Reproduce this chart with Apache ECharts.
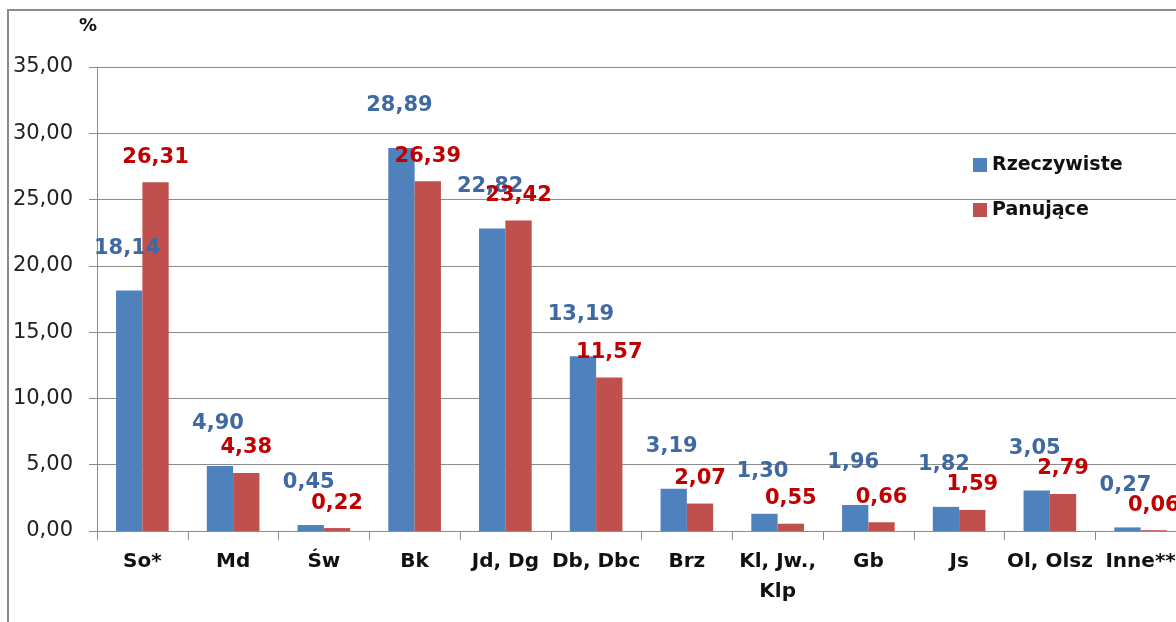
<!DOCTYPE html>
<html>
<head>
<meta charset="utf-8">
<script src="https://cdn.jsdelivr.net/npm/echarts@6/dist/echarts.min.js"></script>
<style>
  html, body { margin: 0; padding: 0; background: #fff; }
  #chart { width: 1176px; height: 622px; }
</style>
</head>
<body>
<div id="chart"></div>
<script>
// gatunki
var categories = ['So*', 'Md', 'Św', 'Bk', 'Jd, Dg', 'Db, Dbc', 'Brz', 'Kl, Jw.,\nKlp', 'Gb', 'Js', 'Ol, Olsz', 'Inne**'];
var rzeczywiste = [18.14, 4.90, 0.45, 28.89, 22.82, 13.19, 3.19, 1.30, 1.96, 1.82, 3.05, 0.27];
var panujace = [26.31, 4.38, 0.22, 26.39, 23.42, 11.57, 2.07, 0.55, 0.66, 1.59, 2.79, 0.06];
var seriesNames = ['Rzeczywiste', 'Panujące'];

var font = 'DejaVu Sans';
function pl(v) { return v.toFixed(2).replace('.', ','); }

var chart = echarts.init(document.getElementById('chart'));
chart.setOption({
  animation: false,
  backgroundColor: '#fff',
  textStyle: { fontFamily: font },
  graphic: [{
    type: 'rect',
    shape: { x: 8, y: 10, width: 1400, height: 1000 },
    style: { fill: 'none', stroke: '#8c8c8c', lineWidth: 2 },
    silent: true
  }],
  legend: {
    orient: 'vertical',
    left: 968,
    top: 150,
    itemWidth: 14,
    itemHeight: 14,
    itemGap: 25,
    icon: 'rect',
    textStyle: { fontFamily: font, fontSize: 19, fontWeight: 'bold', color: '#111', lineHeight: 20 },
    data: seriesNames
  },
  // the plot runs past the right edge of the picture, as in the original
  grid: { left: 97, right: -10, top: 67, bottom: 91, outerBoundsMode: 'none' },
  xAxis: {
    type: 'category',
    data: categories,
    axisLine: { lineStyle: { color: '#8c8c8c', width: 1 } },
    axisTick: { show: true, length: 9, lineStyle: { color: '#8c8c8c' } },
    axisLabel: {
      interval: 0,
      margin: 16,
      fontFamily: font,
      fontSize: 20,
      fontWeight: 'bold',
      color: '#111',
      lineHeight: 30
    }
  },
  yAxis: {
    type: 'value',
    min: 0,
    max: 35,
    interval: 5,
    name: '%',
    nameLocation: 'end',
    nameGap: 32,
    nameTextStyle: { fontFamily: font, fontSize: 18, fontWeight: 'bold', color: '#111', align: 'right' },
    axisLine: { show: true, lineStyle: { color: '#8c8c8c', width: 1 } },
    axisTick: { show: true, length: 8, lineStyle: { color: '#8c8c8c' } },
    axisLabel: {
      margin: 24,
      fontFamily: font,
      fontSize: 21,
      color: '#222',
      formatter: function (v) { return pl(v); }
    },
    splitLine: { lineStyle: { color: '#8c8c8c', width: 1 } }
  },
  series: [{
    name: seriesNames[0],
    type: 'bar',
    data: rzeczywiste,
    barGap: '0%',
    barCategoryGap: '42%',
    itemStyle: { color: '#4F81BD' },
    label: {
      show: true,
      position: 'top',
      offset: [-2, -26],
      fontFamily: font,
      fontSize: 21,
      fontWeight: 'bold',
      lineHeight: 22,
      color: '#3F69A0',
      formatter: function (p) { return pl(p.value); }
    }
  }, {
    name: seriesNames[1],
    type: 'bar',
    data: panujace,
    barGap: '0%',
    barCategoryGap: '42%',
    itemStyle: { color: '#C0504D' },
    label: {
      show: true,
      position: 'top',
      offset: [0, -9],
      fontFamily: font,
      fontSize: 21,
      fontWeight: 'bold',
      lineHeight: 22,
      color: '#C00000',
      formatter: function (p) { return pl(p.value); }
    }
  }]
});
</script>
</body>
</html>
